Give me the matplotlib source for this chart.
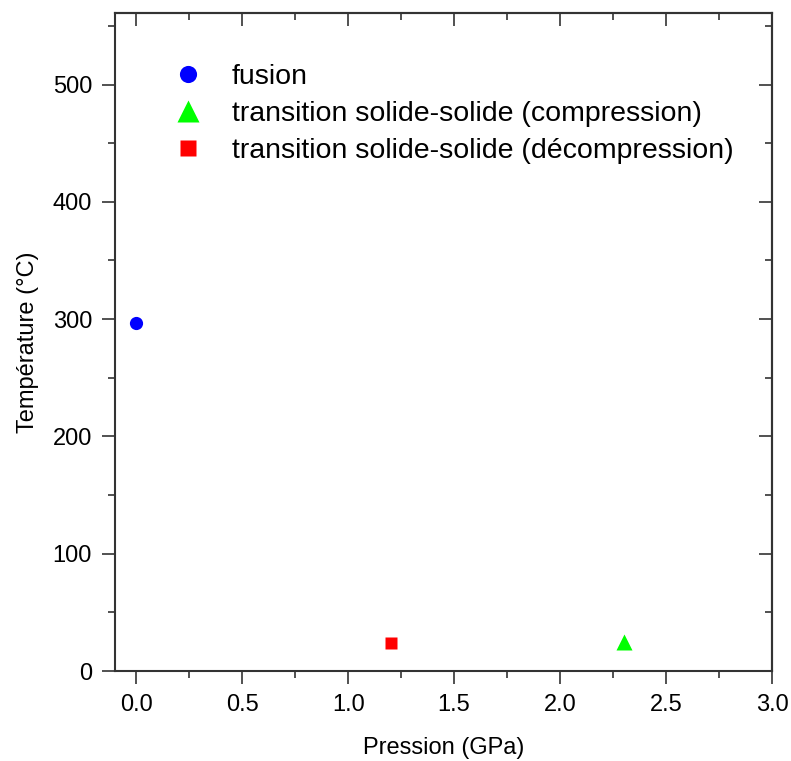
import matplotlib
matplotlib.use("Agg")
import matplotlib.pyplot as plt
from matplotlib.ticker import MultipleLocator

plt.rcParams['font.family'] = ['Liberation Sans', 'DejaVu Sans']

# data
fusion_p = [0.0]
fusion_t = [297]
comp_p = [2.3]
comp_t = [25]
decomp_p = [1.2]
decomp_t = [24]

labels = ["fusion",
          "transition solide-solide (compression)",
          "transition solide-solide (décompression)"]

fig = plt.figure(figsize=(7.91, 7.61), dpi=100)
ax = fig.add_axes([115 / 791, 1 - 671 / 761, 657 / 791, 658 / 761])

ax.plot(fusion_p, fusion_t, "o", color="#0000ff", ms=9.5, mec="none", label=labels[0])
ax.plot(comp_p, comp_t, "^", color="#00ff00", ms=12, mec="none", label=labels[1])
ax.plot(decomp_p, decomp_t, "s", color="#ff0000", ms=9, mec="none", label=labels[2])

ax.set_xlim(-0.1, 3.0)
ax.set_ylim(0, 561)
ax.xaxis.set_major_locator(MultipleLocator(0.5))
ax.xaxis.set_minor_locator(MultipleLocator(0.25))
ax.yaxis.set_major_locator(MultipleLocator(100))
ax.yaxis.set_minor_locator(MultipleLocator(50))
ax.xaxis.set_major_formatter(lambda v, _: f"{v:.1f}")

spine_c = "#333333"
for s in ax.spines.values():
    s.set_linewidth(1.5)
    s.set_color(spine_c)

ax.tick_params(which="major", direction="out", length=9.5, width=1.2, color=spine_c,
               labelsize=17, pad=7)
ax.tick_params(which="minor", direction="out", length=5, width=1.2, color=spine_c)

# top / right: inward ticks, no labels
top = ax.secondary_xaxis("top")
top.xaxis.set_major_locator(MultipleLocator(0.5))
top.xaxis.set_minor_locator(MultipleLocator(0.25))
right = ax.secondary_yaxis("right")
right.yaxis.set_major_locator(MultipleLocator(100))
right.yaxis.set_minor_locator(MultipleLocator(50))
for sec in (top, right):
    sec.tick_params(which="major", direction="in", length=9.5, width=1.2, color=spine_c)
    sec.tick_params(which="minor", direction="in", length=5, width=1.2, color=spine_c)
    sec.tick_params(labeltop=False, labelright=False, labelbottom=False, labelleft=False)
    for s in sec.spines.values():
        s.set_linewidth(1.5)
        s.set_color(spine_c)

ax.set_xlabel("Pression (GPa)", fontsize=17, labelpad=15)
ax.set_ylabel("Température (°C)", fontsize=17, labelpad=10)

ax.legend(loc="upper left", bbox_to_anchor=(0.05, 0.94), frameon=False, fontsize=20.5,
          markerscale=1.3, handletextpad=0.55, labelspacing=0.38, borderaxespad=0)

fig.savefig("out.png", dpi=100)
